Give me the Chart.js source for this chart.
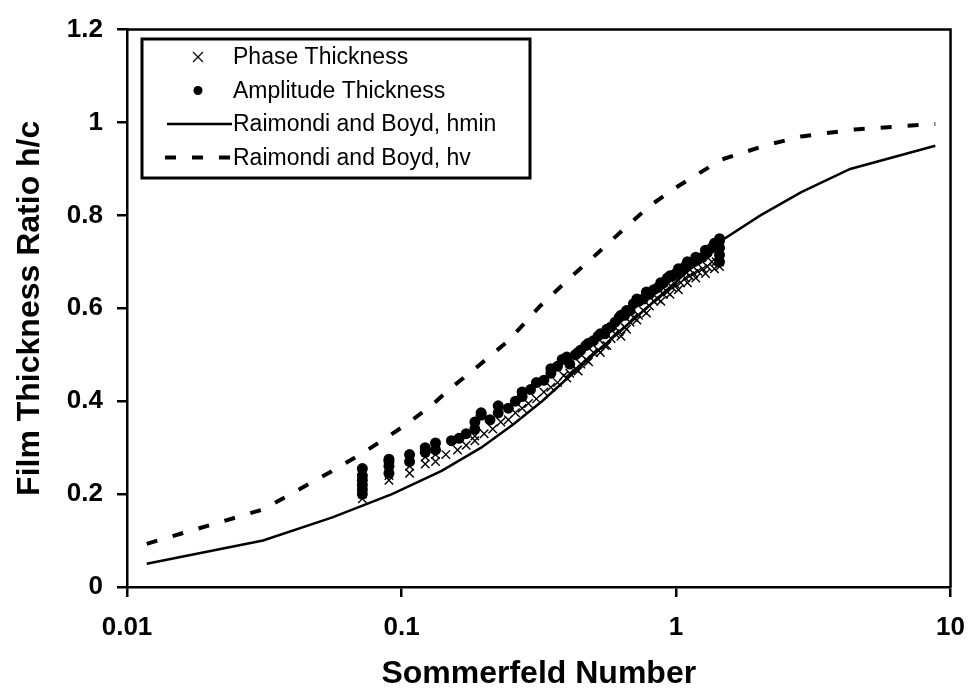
<!DOCTYPE html>
<html lang="en">

<head>
    <meta charset="UTF-8">
    <title>Film Thickness Ratio</title>
    <script src="https://cdn.jsdelivr.net/npm/chart.js"></script>
    <style>
        body {
            margin: 0;
            background: #fff;
        }

        #contenedor {
            width: 980px;
            height: 695px;
        }
    </style>
</head>

<body>
    <div id="contenedor">
        <canvas id="canvas"></canvas>
    </div>

    <script>
        // measured film thickness, Sommerfeld number vs h/c
        const phaseS = [0.072, 0.072, 0.072, 0.072, 0.072, 0.09, 0.09, 0.09, 0.09, 0.107, 0.107, 0.122, 0.122,
            0.133, 0.133, 0.145, 0.16, 0.172, 0.185, 0.185, 0.2, 0.215, 0.23, 0.245, 0.26, 0.275, 0.29, 0.31,
            0.33, 0.35, 0.37, 0.39, 0.41, 0.43, 0.45, 0.47, 0.5, 0.52, 0.55, 0.58, 0.6, 0.62, 0.65, 0.68, 0.7,
            0.73, 0.76, 0.8, 0.83, 0.86, 0.9, 0.93, 0.97, 1.0, 1.04, 1.08, 1.12, 1.16, 1.2, 1.25, 1.3, 1.35,
            1.4, 1.44, 1.44, 1.44, 1.44,
            0.4, 0.44, 0.48, 0.53, 0.56, 0.63, 0.66, 0.72, 0.78, 0.88, 0.95, 1.02, 1.1, 1.18, 1.28, 1.38]
        const phaseH = [0.19, 0.2, 0.21, 0.22, 0.23, 0.23, 0.24, 0.25, 0.26, 0.245, 0.26, 0.265, 0.28,
            0.27, 0.285, 0.285, 0.295, 0.305, 0.315, 0.325, 0.33, 0.34, 0.355, 0.36, 0.375, 0.385, 0.395, 0.405,
            0.42, 0.43, 0.44, 0.455, 0.46, 0.47, 0.48, 0.49, 0.505, 0.51, 0.52, 0.535, 0.545, 0.55, 0.56, 0.57, 0.58,
            0.585, 0.595, 0.605, 0.615, 0.62, 0.63, 0.635, 0.645, 0.65, 0.655, 0.665, 0.67, 0.675, 0.68, 0.685, 0.69, 0.7,
            0.7, 0.69, 0.7, 0.71, 0.72,
            0.45, 0.465, 0.485, 0.505, 0.52, 0.54, 0.555, 0.575, 0.59, 0.615, 0.63, 0.64, 0.655, 0.665, 0.675, 0.685]

        const ampS = [0.072, 0.072, 0.072, 0.072, 0.072, 0.072, 0.09, 0.09, 0.09, 0.09, 0.107, 0.107, 0.122, 0.122,
            0.133, 0.133, 0.152, 0.162, 0.172, 0.185, 0.185, 0.195, 0.195, 0.21, 0.225, 0.225, 0.245, 0.26, 0.275,
            0.275, 0.295, 0.31, 0.33, 0.35, 0.35, 0.37, 0.385, 0.41, 0.43, 0.45, 0.47, 0.5, 0.52, 0.55, 0.58, 0.6,
            0.62, 0.65, 0.68, 0.7, 0.73, 0.76, 0.8, 0.83, 0.86, 0.9, 0.93, 0.97, 1.0, 1.04, 1.08, 1.12, 1.16, 1.2,
            1.25, 1.3, 1.35, 1.4, 1.44, 1.44, 1.44, 1.44, 1.44,
            0.4, 0.44, 0.48, 0.53, 0.56, 0.63, 0.66, 0.72, 0.78, 0.88, 0.95, 1.02, 1.1, 1.18, 1.28, 1.38]
        const ampH = [0.2, 0.21, 0.22, 0.23, 0.24, 0.255, 0.245, 0.26, 0.27, 0.275, 0.27, 0.285, 0.29, 0.3,
            0.295, 0.31, 0.315, 0.32, 0.33, 0.34, 0.355, 0.37, 0.375, 0.36, 0.375, 0.39, 0.385, 0.4, 0.41,
            0.42, 0.425, 0.44, 0.445, 0.46, 0.47, 0.475, 0.49, 0.48, 0.5, 0.51, 0.52, 0.53, 0.54, 0.545, 0.56, 0.57,
            0.58, 0.585, 0.595, 0.61, 0.615, 0.62, 0.63, 0.64, 0.645, 0.655, 0.665, 0.67, 0.675, 0.68, 0.69, 0.695, 0.7, 0.705,
            0.71, 0.72, 0.73, 0.735, 0.745, 0.75, 0.73, 0.715, 0.7,
            0.495, 0.505, 0.525, 0.545, 0.555, 0.585, 0.595, 0.62, 0.635, 0.655, 0.67, 0.685, 0.7, 0.71, 0.725, 0.74]

        // Raimondi and Boyd design chart, l/d = 1/2
        const hminS = [0.0118, 0.0313, 0.056, 0.0923, 0.14, 0.195, 0.255, 0.325, 0.5, 0.779, 1.5, 2.03, 2.86, 4.31, 8.8]
        const hminH = [0.05, 0.1, 0.15, 0.2, 0.25, 0.3, 0.35, 0.4, 0.5, 0.6, 0.75, 0.8, 0.85, 0.9, 0.95]

        const hvS = [0.0118, 0.0313, 0.056, 0.073, 0.09, 0.107, 0.131, 0.149, 0.181, 0.245, 0.32, 0.41, 0.51,
            0.63, 0.8, 1.0, 1.46, 2.1, 2.86, 4.48, 8.8]
        const hvH = [0.093, 0.167, 0.25, 0.29, 0.325, 0.355, 0.395, 0.425, 0.465, 0.53, 0.605, 0.665, 0.715,
            0.765, 0.82, 0.86, 0.92, 0.95, 0.97, 0.985, 0.997]

        const xTicks = [0.01, 0.1, 1, 10]

        const FUENTE = '"Liberation Sans", Arial, sans-serif'
        const DASH = [11, 16]

        function Puntos(xs, ys) {
            let pts = new Array()
            for (let i = 0; i < xs.length; i++) {
                pts.push({ x: xs[i], y: ys[i] })
            }
            return pts
        }

        // box round the plot area
        const marco = {
            id: 'marco',
            beforeDatasetsDraw(chart) {
                const a = chart.chartArea
                const c = chart.ctx
                c.save()
                c.strokeStyle = '#000'
                c.lineWidth = 2.5
                c.beginPath()
                c.moveTo(a.left, a.top)
                c.lineTo(a.right, a.top)
                c.lineTo(a.right, a.bottom)
                c.stroke()
                c.restore()
            }
        }

        // legend inside the plot, top left
        const leyenda = {
            id: 'leyenda',
            afterDraw(chart) {
                const c = chart.ctx
                const ds = chart.data.datasets
                const rows = [57, 90.5, 124, 157.5]
                c.save()
                c.fillStyle = '#fff'
                c.fillRect(142, 39, 388, 139)
                c.strokeStyle = '#000'
                c.lineWidth = 3
                c.strokeRect(142, 39, 388, 139)

                // x mark
                c.lineWidth = 1.2
                c.beginPath()
                c.moveTo(193, rows[0] - 5); c.lineTo(203, rows[0] + 5)
                c.moveTo(203, rows[0] - 5); c.lineTo(193, rows[0] + 5)
                c.stroke()

                // dot
                c.beginPath()
                c.arc(198, rows[1], 4.5, 0, Math.PI * 2)
                c.fillStyle = '#000'
                c.fill()

                // solid line
                c.lineWidth = 2.5
                c.beginPath()
                c.moveTo(167, rows[2]); c.lineTo(232, rows[2])
                c.stroke()

                // dashed line
                c.lineWidth = 4
                c.setLineDash(DASH)
                c.beginPath()
                c.moveTo(165, rows[3]); c.lineTo(232, rows[3])
                c.stroke()
                c.setLineDash([])

                c.font = '23px ' + FUENTE
                c.textBaseline = 'middle'
                c.fillStyle = '#000'
                for (let i = 0; i < ds.length; i++) {
                    c.fillText(ds[i].label, 233, rows[i] + 1)
                }
                c.restore()
            }
        }

        const ctx = document.getElementById('canvas')
        let graph = new Chart(ctx, {
            type: 'scatter',
            data: {
                datasets: [{
                    label: 'Phase Thickness',
                    data: Puntos(phaseS, phaseH),
                    pointStyle: 'crossRot',
                    pointRadius: 6,
                    borderColor: '#000',
                    borderWidth: 1.4,
                    showLine: false
                }, {
                    label: 'Amplitude Thickness',
                    data: Puntos(ampS, ampH),
                    pointStyle: 'circle',
                    pointRadius: 5.5,
                    backgroundColor: '#000',
                    borderColor: '#000',
                    borderWidth: 0,
                    showLine: false
                }, {
                    label: 'Raimondi and Boyd, hmin',
                    data: Puntos(hminS, hminH),
                    showLine: true,
                    pointRadius: 0,
                    borderColor: '#000',
                    borderWidth: 2.5,
                    tension: 0
                }, {
                    label: 'Raimondi and Boyd, hv',
                    data: Puntos(hvS, hvH),
                    showLine: true,
                    pointRadius: 0,
                    borderColor: '#000',
                    borderWidth: 4,
                    borderDash: DASH,
                    tension: 0
                }]
            },
            options: {
                responsive: true,
                maintainAspectRatio: false,
                animation: false,
                layout: {
                    padding: { top: 20, right: 20, left: 0, bottom: 0 }
                },
                plugins: {
                    legend: { display: false },
                    tooltip: { enabled: false }
                },
                scales: {
                    x: {
                        type: 'logarithmic',
                        min: 0.01,
                        max: 10,
                        afterBuildTicks: (s) => {
                            s.ticks = xTicks.map(v => ({ value: v }))
                        },
                        afterFit: (s) => { s.height = 108 },
                        border: { color: '#000', width: 2.5 },
                        grid: {
                            drawOnChartArea: false,
                            color: '#000',
                            lineWidth: 2.5,
                            tickLength: 10
                        },
                        ticks: {
                            color: '#000',
                            padding: 15,
                            maxRotation: 0,
                            autoSkip: false,
                            font: { family: FUENTE, size: 26, weight: 'bold' },
                            callback: (v) => String(v)
                        },
                        title: {
                            display: true,
                            text: 'Sommerfeld Number',
                            color: '#000',
                            padding: { top: 0, bottom: 2 },
                            font: { family: FUENTE, size: 32, weight: 'bold' }
                        }
                    },
                    y: {
                        min: 0,
                        max: 1.2,
                        afterFit: (s) => { s.width = 127 },
                        border: { color: '#000', width: 2.5 },
                        grid: {
                            drawOnChartArea: false,
                            color: '#000',
                            lineWidth: 2.5,
                            tickLength: 10
                        },
                        ticks: {
                            stepSize: 0.2,
                            color: '#000',
                            padding: 14,
                            font: { family: FUENTE, size: 26, weight: 'bold' },
                            callback: (v) => String(Math.round(v * 10) / 10)
                        },
                        title: {
                            display: true,
                            text: 'Film Thickness Ratio h/c',
                            color: '#000',
                            padding: { top: 11, bottom: 0 },
                            font: { family: FUENTE, size: 32, weight: 'bold' }
                        }
                    }
                }
            },
            plugins: [marco, leyenda]
        })
    </script>

</body>

</html>
